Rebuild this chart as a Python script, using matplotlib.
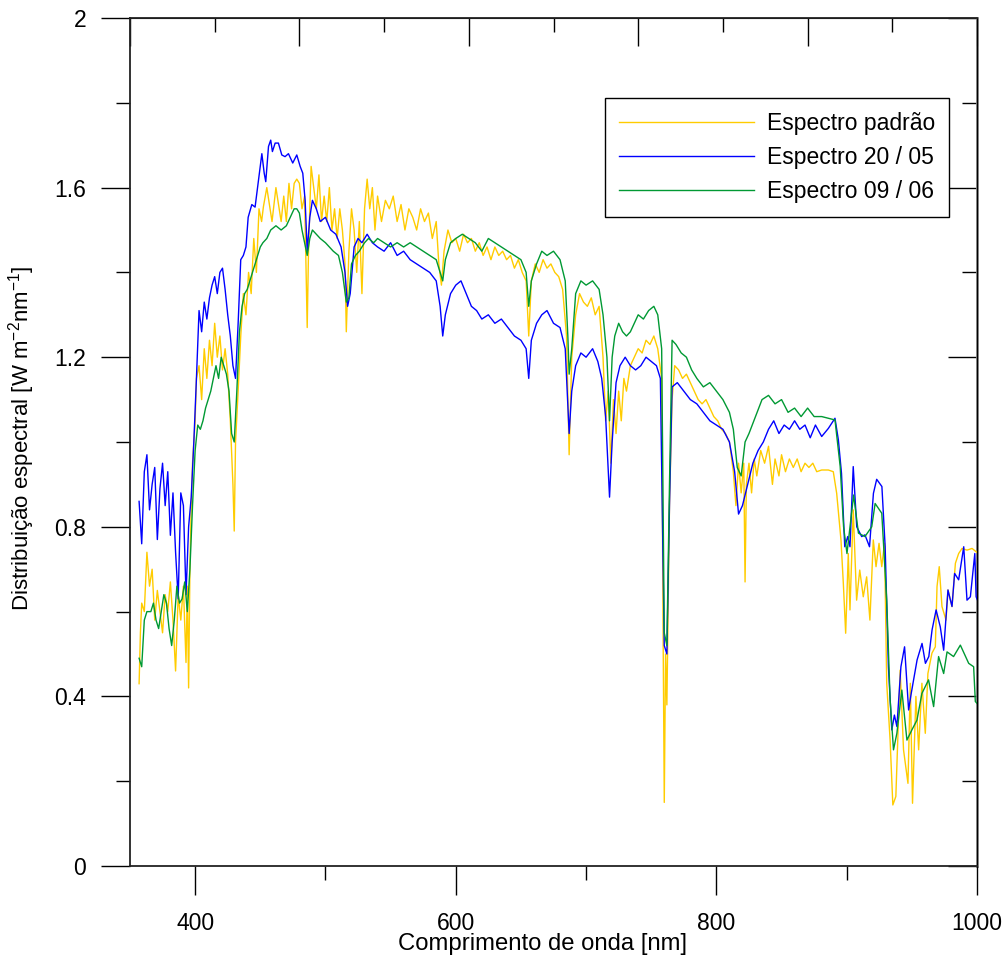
import numpy as np
import matplotlib
matplotlib.use("Agg")
import matplotlib.pyplot as plt

plt.rcParams['font.family'] = ['Liberation Sans', 'DejaVu Sans']
plt.rcParams['mathtext.fontset'] = 'custom'
plt.rcParams['mathtext.rm'] = 'Liberation Sans'

# Espectro padrão (nm, W m-2 nm-1)
wl_padrao = [357, 358, 359, 361, 363, 365, 367, 369, 371, 373, 375, 377, 379, 381, 383, 385, 387, 389,
             391, 393, 394, 395, 396, 397, 398, 400, 401, 403, 405, 407, 409, 411, 413, 415, 417, 419,
             421, 423, 425, 427, 429, 430, 431, 433, 435, 437, 439, 441, 443, 445, 447, 449, 451, 452.4,
             455, 457, 459, 462, 464, 466, 468, 470, 472, 474, 476, 478, 480, 482, 484, 486, 487, 489,
             491, 493, 495, 497, 499, 501, 503, 505, 507, 509, 511, 513, 515, 516, 518, 520, 522, 524,
             526, 528, 530, 532, 534, 536, 538, 540, 543, 546, 549, 552, 555, 558, 561, 564, 567, 570,
             573, 576, 579, 582, 585, 587, 589, 591, 594, 597, 600, 603, 606, 609, 612, 615, 618, 621,
             624, 627, 630, 633, 636, 639, 642, 645, 648, 651, 654, 656, 658, 661, 664, 667, 670, 673,
             676, 679, 682, 685, 687, 689, 692, 695, 698, 701, 704, 707, 710, 713, 715, 717, 719, 721,
             723, 725, 727, 729, 731, 734, 737, 740, 743, 746, 749, 752, 755, 758, 759, 760, 761, 762,
             764, 766, 768, 771, 774, 777, 780, 783, 786, 789, 792, 795, 798, 801, 804, 807, 810, 813,
             815, 817, 819, 821, 822, 823, 825, 827, 829, 831, 834, 837, 840, 843, 845, 848, 850, 853,
             856, 859, 862, 865, 868, 871, 874, 877, 880.8, 885.9, 889.7, 892.3, 895.6, 897.4, 899.2,
             901.2, 902.5, 905, 907.6, 910, 912.7, 915.3, 917.8, 920.4, 922.5, 924.8, 926.9, 929,
             930.7, 933.3, 935.4, 937.7, 941, 943.6, 947, 948.8, 950.5, 953.1, 955.2, 957.7, 960.3,
             962.3, 965.4, 968, 969.3, 971, 973.1, 976.2, 977.7, 980.8, 983.4, 985.9, 988.5, 992.3,
             996.2, 1001]
val_padrao = [0.43, 0.55, 0.62, 0.60, 0.74, 0.66, 0.70, 0.58, 0.65, 0.60, 0.55, 0.64, 0.60, 0.67, 0.58, 0.46, 0.64, 0.58,
              0.66, 0.48, 0.66, 0.42, 0.70, 0.85, 0.95, 1.05, 1.15, 1.18, 1.10, 1.22, 1.15, 1.24, 1.18, 1.28, 1.20, 1.25,
              1.17, 1.22, 1.16, 1.05, 0.90, 0.79, 1.00, 1.12, 1.25, 1.35, 1.30, 1.40, 1.35, 1.48, 1.40, 1.55, 1.52, 1.555,
              1.60, 1.56, 1.52, 1.60, 1.56, 1.52, 1.58, 1.52, 1.61, 1.55, 1.61, 1.62, 1.61, 1.55, 1.58, 1.27, 1.45, 1.65,
              1.60, 1.55, 1.63, 1.52, 1.58, 1.52, 1.60, 1.50, 1.55, 1.48, 1.55, 1.50, 1.42, 1.26, 1.45, 1.55, 1.50, 1.40,
              1.52, 1.35, 1.55, 1.62, 1.55, 1.60, 1.50, 1.58, 1.52, 1.57, 1.55, 1.58, 1.52, 1.56, 1.50, 1.55, 1.53, 1.50,
              1.55, 1.52, 1.54, 1.48, 1.52, 1.42, 1.37, 1.45, 1.50, 1.47, 1.48, 1.45, 1.49, 1.47, 1.48, 1.45, 1.47, 1.44,
              1.46, 1.43, 1.46, 1.44, 1.45, 1.43, 1.44, 1.41, 1.43, 1.40, 1.38, 1.25, 1.38, 1.42, 1.40, 1.43, 1.41, 1.42,
              1.40, 1.39, 1.36, 1.25, 0.97, 1.20, 1.30, 1.35, 1.33, 1.32, 1.34, 1.30, 1.32, 1.20, 1.05, 1.12, 0.95, 1.10,
              1.02, 1.12, 1.05, 1.15, 1.12, 1.18, 1.20, 1.22, 1.21, 1.24, 1.23, 1.25, 1.22, 1.15, 0.60, 0.15, 0.50, 0.38,
              0.85, 1.10, 1.18, 1.17, 1.15, 1.16, 1.14, 1.12, 1.10, 1.09, 1.10, 1.08, 1.06, 1.05, 1.03, 1.02, 1.00, 0.93,
              0.85, 0.95, 0.88, 0.95, 0.67, 0.90, 0.95, 0.88, 0.96, 0.92, 0.98, 0.95, 0.99, 0.90, 0.96, 0.92, 0.97, 0.93,
              0.96, 0.94, 0.96, 0.93, 0.95, 0.94, 0.95, 0.93, 0.934, 0.934, 0.93, 0.879, 0.769, 0.667, 0.549,
              0.737, 0.604, 0.84, 0.627, 0.698, 0.635, 0.682, 0.58, 0.769, 0.706, 0.761, 0.706, 0.761,
              0.431, 0.297, 0.144, 0.164, 0.462, 0.274, 0.195, 0.431, 0.148, 0.40, 0.274, 0.431, 0.313,
              0.454, 0.502, 0.517, 0.659, 0.706, 0.612, 0.58, 0.651, 0.612, 0.714, 0.737, 0.749, 0.745,
              0.749, 0.737]

# Espectro 20 / 05
wl_2005 = [357, 359, 361, 363, 365, 367, 369, 371, 373, 375, 377, 379, 381, 383, 385, 387, 389, 391, 393,
           395, 397, 399, 401, 403, 405, 407, 409, 411, 413, 415, 417, 419, 421, 423, 425, 427, 429, 431,
           433, 435, 437, 439, 440.7, 443.5, 446, 448.6, 451.2, 453, 454.2, 456.3, 458, 459.3, 461.4,
           463.9, 466.5, 469, 471.6, 474.9, 478, 480.6, 482.6, 484.4, 486, 488, 490, 493, 496, 500, 504,
           508, 512, 515, 517, 519, 522, 525, 528, 532, 536, 540, 545, 550, 555, 560, 565, 570, 575, 580,
           585, 588, 590, 592, 596, 600, 604, 608, 612, 616, 620, 625, 630, 635, 640, 645, 650, 654, 656,
           658, 662, 666, 670, 675, 680, 684, 687, 689, 692, 696, 700, 705, 709, 712, 715, 718, 720, 723,
           726, 730, 734, 738, 742, 746, 750, 754, 757, 760, 762, 764, 766, 770, 775, 780, 785, 790, 795,
           800, 805, 810, 814, 817, 820, 824, 828, 832, 836, 840, 844, 848, 852, 856, 860, 864, 868, 872,
           876, 880.8, 885.9, 891, 893.6, 896, 898.5, 900.8, 902.5, 905, 907.7, 911.5, 914, 917.5, 920.5,
           923, 927, 929.5, 932, 934.6, 936.6, 938.5, 941.6, 944.4, 947.5, 949.5, 954, 957.8, 960.4, 963,
           965.5, 968.6, 971.8, 974.4, 977.7, 980.8, 982.8, 985.9, 989.8, 992.3, 994.9, 998.3, 999.3, 1001.3]
val_2005 = [0.86, 0.76, 0.93, 0.97, 0.84, 0.90, 0.94, 0.77, 0.89, 0.95, 0.85, 0.93, 0.78, 0.88, 0.74, 0.63, 0.88, 0.85, 0.64,
            0.80, 0.87, 1.00, 1.15, 1.31, 1.26, 1.33, 1.29, 1.34, 1.37, 1.39, 1.35, 1.40, 1.41, 1.36, 1.30, 1.25, 1.18, 1.15,
            1.28, 1.43, 1.44, 1.46, 1.53, 1.56, 1.554, 1.618, 1.68, 1.634, 1.614, 1.697, 1.712, 1.685, 1.705,
            1.705, 1.677, 1.673, 1.68, 1.658, 1.677, 1.65, 1.634, 1.57, 1.45, 1.53, 1.57, 1.55, 1.52, 1.53, 1.50,
            1.49, 1.46, 1.40, 1.32, 1.35, 1.46, 1.48, 1.47, 1.49, 1.47, 1.46, 1.45, 1.47, 1.44, 1.45, 1.43, 1.42, 1.41, 1.40,
            1.38, 1.32, 1.25, 1.30, 1.35, 1.37, 1.38, 1.35, 1.32, 1.31, 1.29, 1.30, 1.28, 1.29, 1.27, 1.25, 1.24, 1.22, 1.15,
            1.24, 1.28, 1.30, 1.31, 1.28, 1.27, 1.22, 1.02, 1.12, 1.18, 1.21, 1.20, 1.22, 1.19, 1.15, 1.06, 0.87, 1.00, 1.14,
            1.18, 1.20, 1.18, 1.17, 1.18, 1.20, 1.19, 1.18, 1.15, 0.52, 0.50, 0.85, 1.13, 1.14, 1.12, 1.10, 1.09, 1.07, 1.05,
            1.04, 1.03, 1.00, 0.93, 0.83, 0.85, 0.90, 0.95, 0.98, 1.00, 1.03, 1.05, 1.02, 1.04, 1.03, 1.05, 1.03, 1.04, 1.01,
            1.04, 1.013, 1.032, 1.056, 1.005, 0.926, 0.753, 0.777, 0.753, 0.942, 0.80, 0.777, 0.781, 0.753, 0.879,
            0.912, 0.895, 0.753, 0.47, 0.321, 0.356, 0.329, 0.47, 0.517, 0.368, 0.407, 0.486, 0.525, 0.478, 0.494,
            0.557, 0.604, 0.564, 0.509, 0.651, 0.612, 0.69, 0.675, 0.753, 0.627, 0.635, 0.737, 0.635, 0.62]

# Espectro 09 / 06
wl_0906 = [357, 359, 361, 363, 366, 368, 370, 372, 374, 376, 378, 380, 382, 384, 386, 388, 390, 392, 394,
           396, 398, 400, 402, 404, 406, 408, 410, 412, 414, 416, 418, 420, 422, 424, 426, 428, 430, 432,
           434, 436, 438, 440, 442, 444, 446, 448, 450, 452, 455, 458, 462, 466, 470, 473, 476, 478, 480,
           482, 484, 486, 488, 490, 493, 496, 500, 503, 506, 510, 513, 516, 518, 520, 523, 526, 530, 533,
           537, 540, 545, 550, 555, 560, 565, 570, 575, 580, 585, 588, 590, 592, 596, 600, 605, 610, 615,
           620, 625, 630, 635, 640, 645, 650, 654, 656, 658, 662, 666, 670, 675, 680, 684, 686, 687, 689,
           692, 696, 700, 705, 710, 713, 716, 718, 720, 722, 725, 728, 731, 734, 737, 740, 744, 748, 752,
           755, 758, 760, 762, 764, 766, 769, 773, 777, 781, 785, 790, 795, 800, 805, 810, 813, 816, 819,
           822, 825, 830, 835, 840, 845, 850, 855, 860, 865, 870, 875, 880.8, 885.9, 891, 895, 897.6,
           900.2, 905.3, 909, 914, 919.2, 921.8, 926.9, 930.7, 933.3, 935.9, 938.5, 942.3, 946.2, 950,
           953.9, 957.7, 962.8, 966.7, 970.5, 974.4, 977, 982, 987.2, 993.6, 997.4, 998.7, 1001]
val_0906 = [0.49, 0.47, 0.58, 0.60, 0.60, 0.62, 0.58, 0.56, 0.60, 0.64, 0.62, 0.56, 0.52, 0.58, 0.66, 0.62, 0.63, 0.67, 0.60,
            0.70, 0.85, 0.98, 1.04, 1.03, 1.05, 1.08, 1.10, 1.12, 1.15, 1.18, 1.15, 1.20, 1.18, 1.16, 1.12, 1.02, 1.00, 1.12,
            1.26, 1.32, 1.35, 1.36, 1.38, 1.40, 1.42, 1.44, 1.46, 1.47, 1.48, 1.50, 1.51, 1.50, 1.51, 1.53, 1.55, 1.55, 1.54,
            1.50, 1.47, 1.44, 1.48, 1.50, 1.49, 1.48, 1.47, 1.46, 1.45, 1.44, 1.40, 1.33, 1.34, 1.42, 1.44, 1.45, 1.47, 1.48,
            1.47, 1.48, 1.47, 1.46, 1.47, 1.46, 1.47, 1.46, 1.45, 1.44, 1.43, 1.40, 1.38, 1.43, 1.47, 1.48, 1.49, 1.48, 1.47,
            1.45, 1.48, 1.47, 1.46, 1.45, 1.44, 1.43, 1.40, 1.32, 1.38, 1.42, 1.45, 1.44, 1.45, 1.43, 1.38, 1.25, 1.16, 1.22,
            1.35, 1.38, 1.37, 1.38, 1.36, 1.30, 1.20, 1.05, 1.20, 1.25, 1.28, 1.26, 1.25, 1.26, 1.28, 1.30, 1.29, 1.31, 1.32,
            1.30, 1.22, 0.55, 0.52, 0.90, 1.24, 1.23, 1.21, 1.20, 1.17, 1.15, 1.13, 1.14, 1.12, 1.10, 1.07, 1.03, 0.94, 0.92,
            1.00, 1.02, 1.06, 1.10, 1.11, 1.09, 1.10, 1.07, 1.08, 1.06, 1.08, 1.06, 1.06, 1.056, 1.052, 0.942, 0.80,
            0.737, 0.875, 0.785, 0.777, 0.80, 0.855, 0.832, 0.627, 0.392, 0.274, 0.313, 0.415, 0.297, 0.321,
            0.344, 0.407, 0.439, 0.376, 0.494, 0.454, 0.505, 0.494, 0.521, 0.478, 0.47, 0.388, 0.38]

y_major = [0, 0.4, 0.8, 1.2, 1.6, 2.0]
y_labels = ['0', '0.4', '0.8', '1.2', '1.6', '2']
x_major = [400, 600, 800, 1000]

fs = 16.5
fig = plt.figure(figsize=(10.06, 9.6), dpi=100)
ax = fig.add_axes([0.1292, 0.0979, 0.9712 - 0.1292, 0.98125 - 0.0979])

ax.plot(wl_padrao, val_padrao, color='#ffcc00', lw=1.0, label='Espectro padrão')
ax.plot(wl_2005, val_2005, color='#0000ff', lw=1.0, label='Espectro 20 / 05')
ax.plot(wl_0906, val_0906, color='#009933', lw=1.0, label='Espectro 09 / 06')

ax.set_xlim(350, 1000)
ax.set_ylim(0, 2)

# left / bottom: ticks pointing outward
ax.set_xticks(x_major)
ax.set_xticks([500, 700, 900], minor=True)
ax.set_yticks(y_major)
ax.set_yticklabels(y_labels)
ax.set_yticks(np.arange(0.2, 2.0, 0.4), minor=True)
ax.tick_params(which='major', direction='out', length=21, width=1.0, labelsize=fs,
               top=False, right=False)
ax.tick_params(axis='x', which='major', pad=12)
ax.tick_params(axis='y', which='major', pad=10.5)
ax.tick_params(which='minor', direction='out', length=10, width=1.0, top=False, right=False)

# top and right: inward ticks, no labels
top = ax.secondary_xaxis('top')
top.set_xticks([350 + 130 * k for k in range(6)])
top.set_xticks([415 + 130 * k for k in range(5)], minor=True)
top.tick_params(which='major', direction='in', length=20, width=1.0, labeltop=False)
top.tick_params(which='minor', direction='in', length=10, width=1.0)

right = ax.secondary_yaxis('right')
right.set_yticks(y_major)
right.set_yticks(np.arange(0.2, 2.0, 0.4), minor=True)
right.tick_params(which='major', direction='in', length=21, width=1.0, labelright=False)
right.tick_params(which='minor', direction='in', length=11, width=1.0)
right.spines['right'].set_color('#808080')
right.spines['right'].set_linewidth(2.0)

for s in ['left', 'top', 'bottom']:
    ax.spines[s].set_linewidth(1.3)
    ax.spines[s].set_color('#222222')

ax.set_xlabel('Comprimento de onda [nm]', fontsize=17.2)
ax.xaxis.set_label_coords(0.4865, -0.0785)
ax.set_ylabel(r'Distribuição espectral [W m$^{\mathregular{-2}}$nm$^{\mathregular{-1}}$]',
              fontsize=16)
ax.yaxis.set_label_coords(-0.1100, 0.504)

leg = ax.legend(loc='upper left', bbox_to_anchor=(0.5608, 0.9057), fontsize=fs,
                frameon=True, fancybox=False, edgecolor='black', framealpha=1,
                handlelength=5.87, handletextpad=0.57, labelspacing=0.47, borderpad=0.62,
                borderaxespad=0)
leg.get_frame().set_linewidth(1.0)

fig.savefig('out.png', dpi=100)
